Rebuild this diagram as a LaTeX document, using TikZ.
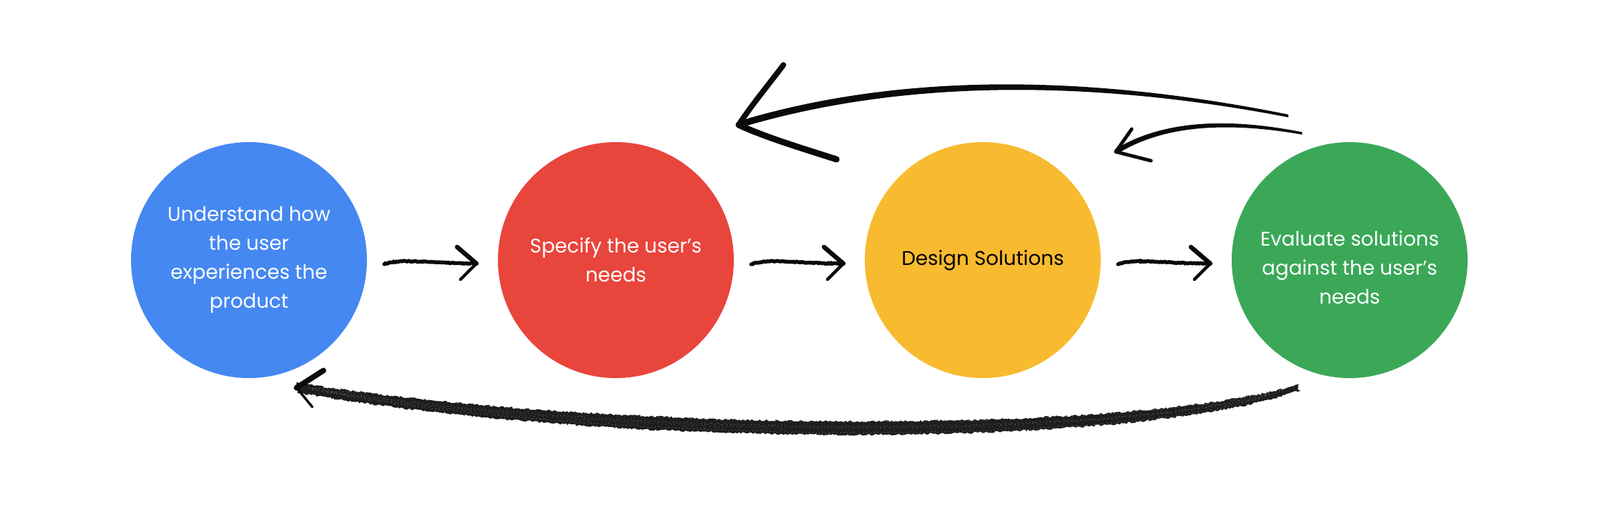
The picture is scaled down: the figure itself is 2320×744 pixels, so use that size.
\documentclass[tikz,border=0pt]{standalone}
\usepackage{fontspec}
\setmainfont{Poppins}
\usetikzlibrary{arrows.meta,calc,decorations.pathmorphing}
\definecolor{gblue}{HTML}{4688F1}
\definecolor{gred}{HTML}{E8453C}
\definecolor{gyellow}{HTML}{F8BA2F}
\definecolor{ggreen}{HTML}{3BA858}
\definecolor{ink}{HTML}{0A0A0A}
\begin{document}
\begin{tikzpicture}[x=1pt,y=-1pt,
  stage/.style={circle, minimum size=342pt, inner sep=0pt},
  stagetext/.style={align=center, font=\fontsize{28.7}{42}\selectfont, text=white, inner sep=0pt},
  shaft/.style={draw=ink, line width=5.5pt, line cap=round, decorate,
    decoration={random steps, segment length=2pt, amplitude=0.6pt}},
  arm/.style={draw=ink, line cap=round, line join=round},
  charcoal/.style={fill=ink!92, decorate, decoration={random steps, segment length=2.5pt, amplitude=1.4pt}},
  grain/.style={draw=white, opacity=0.3, line width=0.9pt, dash pattern=on 1.5pt off 4pt,
    decorate, decoration={random steps, segment length=3pt, amplitude=1.5pt}},
]
\useasboundingbox (0,0) rectangle (2320,744);
\fill[white] (0,0) rectangle (2320,744);

% stages
\node[stage, stagetext, fill=gblue] (b) at (361,377) {Understand how\\the user\\experiences the\\product};
\node[stage, stagetext, fill=gred] (r) at (893,377) {Specify the user’s\\needs};
\node[stage, stagetext, text=black, fill=gyellow] (yl) at (1425,377) {Design Solutions};
\node[stage, fill=ggreen] (g) at (1957,377) {};
\node[stagetext] (gt) at (1957,388) {Evaluate solutions\\against the user’s\\needs};

% forward arrows (hand drawn)
\coordinate (t1) at ([xshift=-31pt,yshift=-5pt]r.west);
\coordinate (t2) at ([xshift=-31pt,yshift=-5pt]yl.west);
\coordinate (t3) at ([xshift=-31pt,yshift=-5pt]g.west);
\draw[shaft] ([xshift=25pt,yshift=-6pt]b.east) .. controls +(22,-9) and +(-60,0) .. (t1);
\draw[shaft] ([xshift=25pt,yshift=-6pt]r.east) .. controls +(22,-9) and +(-60,0) .. (t2);
\draw[shaft] ([xshift=25pt,yshift=-6pt]yl.east) .. controls +(22,-9) and +(-60,0) .. (t3);
\foreach \t in {t1,t2,t3}{
  \draw[arm, line width=6.5pt] ($(\t)+(-28,-24)$) -- (\t);
  \draw[arm, line width=4.5pt] (\t) -- ($(\t)+(-23,23)$);
}

% big top arrow (green back to specify)
\coordinate (bigT) at (1071,181);
\fill[ink] (1868,166) .. controls (1650,122) and (1350,91) .. (1070,176)
  -- (1070,186) .. controls (1350,101) and (1650,128) .. (1868,170) -- cycle;
\draw[arm, line width=8pt] (1136,94) .. controls (1115,122) and (1090,152) .. (bigT);
\draw[arm, line width=9pt] (bigT) .. controls (1110,199) and (1160,214) .. (1213,231);

% small top arrow (green back to design)
\coordinate (smT) at (1618,220);
\fill[ink] (1888,191.5) .. controls (1790,172) and (1690,171) .. (1616,217)
  -- (1620,223) .. controls (1692,178) and (1790,178) .. (1888,195) -- cycle;
\draw[arm, line width=5pt] (1641,187) -- (smT);
\draw[arm, line width=5pt] (smT) -- (1669,233);

% bottom charcoal arrow (green back to understand)
\coordinate (botT) at (430,562);
\fill[charcoal] (1883,557) .. controls (1650,629) and (900,629) .. (431,555)
  -- (431,569) .. controls (900,651) and (1650,651) .. (1883,566) -- cycle;
\draw[grain] (1860,566) .. controls (1650,636) and (900,636) .. (450,563);
\draw[grain] (1840,572) .. controls (1650,646) and (900,646) .. (470,568);
\draw[grain] (1870,561) .. controls (1650,628) and (900,628) .. (460,558);
\draw[grain, dash pattern=on 1pt off 6pt] (1850,564) .. controls (1650,640) and (900,640) .. (455,565);
\draw[arm, line width=8pt] (botT) -- (469,537);
\draw[arm, line width=3.5pt] (botT) -- (453,590);
\end{tikzpicture}
\end{document}
